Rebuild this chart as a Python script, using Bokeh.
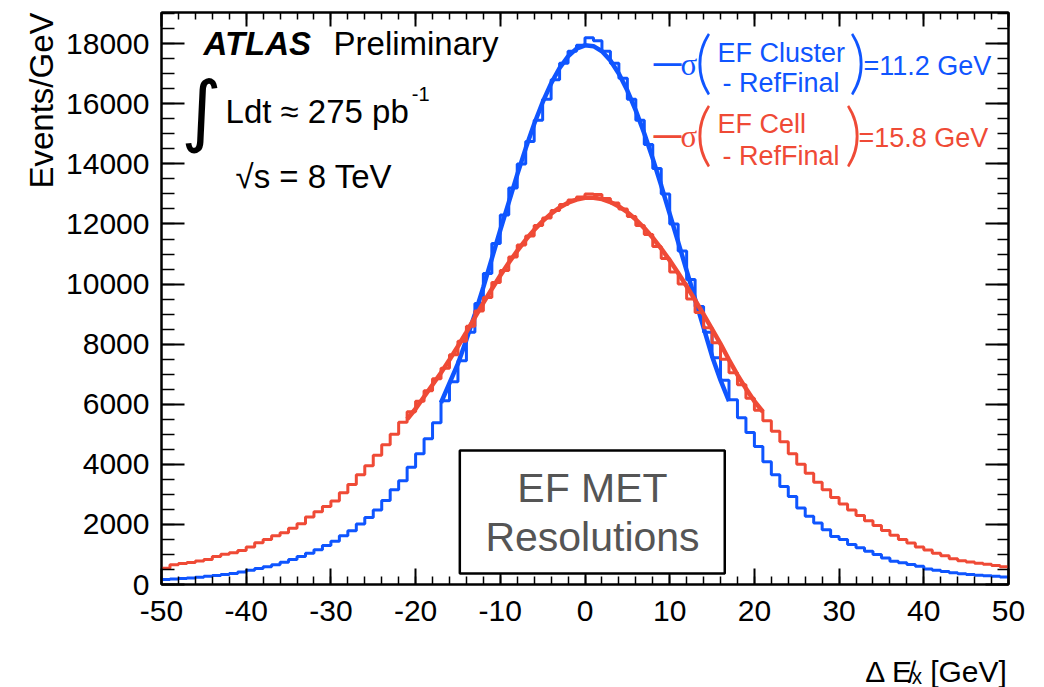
import math
from bokeh.plotting import figure
from bokeh.models import Label, BoxAnnotation, LinearAxis, FixedTicker, Range1d, Title
from bokeh.embed import file_html
from bokeh.resources import INLINE

# ---------------- data ----------------
bin_low_edges = list(range(-50, 50))          # 1 GeV bins, -50 .. 50
bin_high_edge = 50

ef_cluster_counts = [
    170, 185, 200, 220, 245, 275, 300, 330, 370, 420,
    475, 530, 590, 660, 740, 830, 930, 1040, 1160, 1300,
    1440, 1620, 1790, 2010, 2230, 2480, 2800, 3150, 3450, 3900,
    4350, 4850, 5380, 6120, 6750, 7450, 8400, 9350, 10350, 11350,
    12300, 13200, 14000, 14750, 15450, 16150, 16800, 17350, 17750, 17950,
    18200, 18100, 17750, 17350, 16850, 16150, 15450, 14650, 13850, 13000,
    12000, 11100, 10150, 9250, 8400, 7550, 6800, 6150, 5550, 5060,
    4590, 4090, 3650, 3260, 2930, 2545, 2270, 2050, 1825, 1600,
    1495, 1330, 1220, 1105, 1000, 885, 775, 720, 665, 610,
    520, 475, 430, 390, 355, 330, 310, 290, 276, 250,
]

ef_cell_counts = [
    540, 660, 700, 730, 780, 830, 930, 1010, 1060, 1130,
    1250, 1390, 1500, 1620, 1720, 1870, 2020, 2250, 2420, 2600,
    2780, 3050, 3330, 3650, 3950, 4300, 4650, 5000, 5400, 5750,
    6100, 6450, 6850, 7200, 7650, 8100, 8600, 9100, 9550, 10050,
    10450, 10900, 11300, 11600, 11950, 12200, 12450, 12650, 12800, 12900,
    13000, 12980, 12850, 12700, 12500, 12250, 11950, 11650, 11250, 10850,
    10400, 10000, 9500, 9050, 8550, 8050, 7500, 7050, 6650, 6200,
    5800, 5450, 5100, 4750, 4350, 4000, 3700, 3400, 3150, 2900,
    2680, 2480, 2300, 2120, 1960, 1800, 1640, 1500, 1380, 1250,
    1150, 1040, 960, 860, 790, 750, 710, 670, 630, 590,
]

# Gaussian fit curves
cluster_fit_x = list(range(-17, 18))
cluster_fit_y = [
    6050, 6700, 7350, 8150, 9000, 9900, 10850, 11800, 12717, 13644,
    14519, 15328, 16052, 16680, 17192, 17580, 17835, 17948, 17920, 17750,
    17441, 17002, 16441, 15774, 15014, 14176, 13280, 12340, 11400, 10450,
    9500, 8550, 7600, 6800, 6100,
]
cell_fit_x = list(range(-21, 22))
cell_fit_y = [
    5500, 5850, 6250, 6650, 7050, 7480, 7930, 8404, 8892, 9372,
    9838, 10285, 10708, 11106, 11473, 11805, 12096, 12346, 12550, 12707,
    12814, 12871, 12876, 12830, 12732, 12585, 12391, 12150, 11865, 11542,
    11183, 10791, 10371, 9928, 9466, 8990, 8503, 8010, 7480, 6980,
    6520, 6100, 5750,
]

x_major_ticks = list(range(-50, 51, 10))
x_minor_ticks = list(range(-50, 51, 2))
y_major_ticks = list(range(0, 18001, 2000))
y_minor_ticks = list(range(0, 19001, 500))

sigma_cluster = "11.2"
sigma_cell = "15.8"

BLUE = "#0f55ff"
RED = "#ef4a36"
FONT = "Liberation Sans"

# ---------------- figure ----------------
p = figure(width=1044, height=687, x_range=Range1d(-50, 50), y_range=Range1d(0, 19040),
           output_backend="svg", toolbar_location=None,
           min_border_left=161, min_border_right=36, min_border_top=12, min_border_bottom=102)
p.xgrid.visible = False
p.ygrid.visible = False
p.outline_line_color = "black"
p.outline_line_width = 2
p.background_fill_color = "white"
p.border_fill_color = "white"


def style_axis(ax, ticks, minor, major_in, minor_in, labels=True, standoff=10):
    ax.ticker = FixedTicker(ticks=ticks, minor_ticks=minor)
    ax.major_tick_in = major_in
    ax.major_tick_out = 0
    ax.minor_tick_in = minor_in
    ax.minor_tick_out = 0
    ax.major_tick_line_width = 2
    ax.minor_tick_line_width = 1.5
    ax.major_tick_line_color = "black"
    ax.minor_tick_line_color = "black"
    ax.axis_line_color = "black"
    ax.axis_line_width = 2
    if labels:
        ax.major_label_overrides = {t: str(t) for t in ticks}
        ax.major_label_text_font = FONT
        ax.major_label_text_font_size = "30px"
        ax.major_label_text_color = "black"
        ax.major_label_standoff = standoff
    else:
        ax.major_label_overrides = {t: "" for t in ticks}
        ax.major_label_text_font_size = "1px"
        ax.major_label_standoff = 0


style_axis(p.xaxis[0], x_major_ticks, x_minor_ticks, 16, 8, True, 16)
style_axis(p.yaxis[0], y_major_ticks, y_minor_ticks, 23, 13, True, 12)

top_axis = LinearAxis()
style_axis(top_axis, x_major_ticks, x_minor_ticks, 14, 7, False)
p.add_layout(top_axis, "above")
right_axis = LinearAxis()
style_axis(right_axis, y_major_ticks, y_minor_ticks, 23, 11, False)
p.add_layout(right_axis, "right")

# axis titles (aligned at the axis ends, as in ROOT)
p.add_layout(Title(text="Events/GeV", align="right", text_font=FONT, text_font_size="33px",
                   text_font_style="normal", text_color="black", standoff=8), "left")
# blank spacer panel between the tick labels and the x title
p.add_layout(Title(text=" ", text_font_size="1px", standoff=26), "below")
p.add_layout(Title(text="\u0394 E\u0338\u2093 [GeV]", align="right", text_font=FONT,
                   text_font_size="30px", text_font_style="normal", text_color="black",
                   vertical_align="bottom", standoff=0), "below")

# ---------------- histograms and fits ----------------
step_x = bin_low_edges + [bin_high_edge]
p.step(step_x, ef_cluster_counts + [ef_cluster_counts[-1]], mode="after",
       line_color=BLUE, line_width=3)
p.line(cluster_fit_x, cluster_fit_y, line_color=BLUE, line_width=4.5)
p.step(step_x, ef_cell_counts + [ef_cell_counts[-1]], mode="after",
       line_color=RED, line_width=3)
p.line(cell_fit_x, cell_fit_y, line_color=RED, line_width=4.5)


def lab(x, y, text, size, color="black", font=FONT, style="normal", align="left",
        baseline="alphabetic", angle=0.0):
    shift = 0.35 * size if baseline == "alphabetic" else 0.1 * size
    p.add_layout(Label(x=x, y=y, y_offset=shift, text=text, text_font=font,
                       text_font_size=f"{size}px", text_color=color, text_font_style=style,
                       text_align=align, text_baseline=baseline, angle=angle))


# ATLAS block
lab(-45.04, 17611, "ATLAS", 33, style="bold italic")
lab(-29.69, 17611, "Preliminary", 33)
lab(-45.28, 15551, "\u222b", 78, font="DejaVu Sans", align="center", baseline="middle")
lab(-42.44, 15352, "Ldt \u2248 275 pb", 33)
lab(-20.45, 16083, "-1", 20)
lab(-41.26, 13192, "\u221as = 8 TeV", 33)

# legend
for (ydash, ysig, ypar, ytop, ybot, name, xclose, xeq, sig, col) in [
    (17279, 16947, 17246, 17379, 16382, "EF Cluster", 32.17, 32.88, sigma_cluster, BLUE),
    (14887, 14554, 14853, 15020, 13956, "EF Cell", 31.70, 32.29, sigma_cell, RED),
]:
    lab(8.09, ydash, "\u2014", 28, color=col, baseline="middle", style="bold")
    lab(11.28, ysig, "\u03c3", 31, color=col, font="Liberation Serif")
    lab(13.99, ypar, "(", 68, color=col, font="Lato Light", align="center", baseline="middle")
    lab(15.64, ytop, name, 27, color=col)
    lab(16.23, ybot, "- RefFinal", 27, color=col)
    lab(xclose, ypar, ")", 68, color=col, font="Lato Light", align="center", baseline="middle")
    lab(xeq, ysig, "=" + sig + " GeV", 27, color=col)

# EF MET box
p.add_layout(BoxAnnotation(left=-14.78, right=16.50, bottom=365, top=4463,
                           fill_color="white", fill_alpha=1.0,
                           line_color="black", line_alpha=1.0, line_width=2.5))
lab(0.885, 2725, "EF MET", 41, color="#555555", align="center")
lab(0.885, 1097, "Resolutions", 41, color="#555555", align="center")

open("out.html", "w").write(file_html(p, INLINE))
